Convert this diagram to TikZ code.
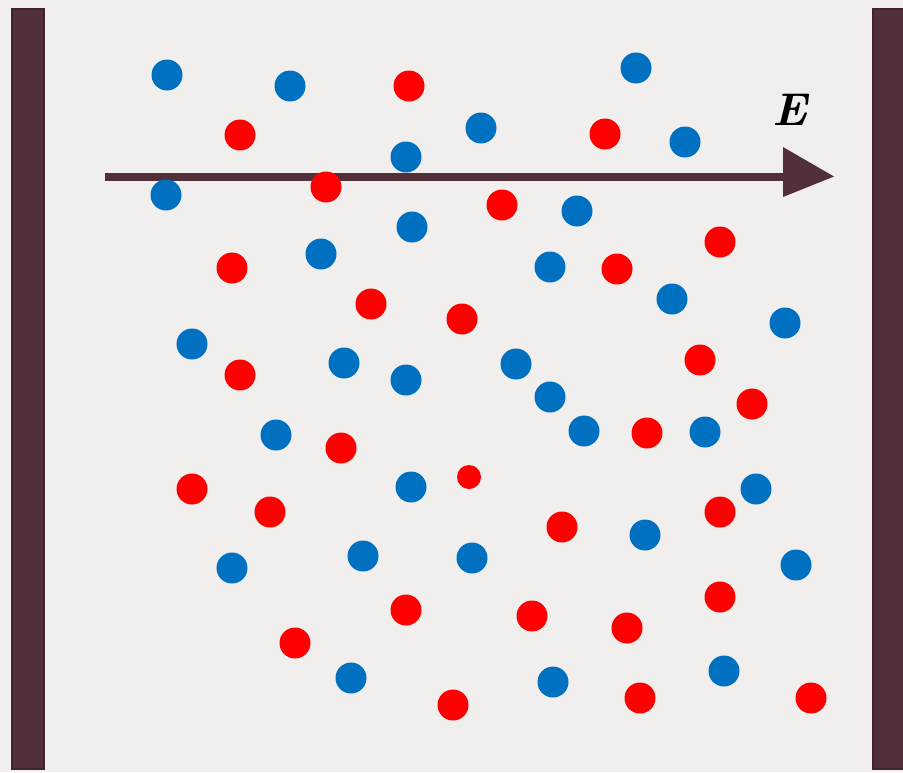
\documentclass[tikz,border=0pt]{standalone}
\usepackage{fontspec}
\usepackage{xcolor}
\definecolor{bg}{HTML}{F1EFEE}
\definecolor{plate}{HTML}{52303A}
\definecolor{plateedge}{HTML}{40252D}
\definecolor{qblue}{HTML}{0070C0}
\definecolor{qred}{HTML}{FF0000}
\begin{document}
\begin{tikzpicture}[x=1pt,y=-1pt,
  platebox/.style={fill=plate,draw=plateedge,line width=2.5pt},
  poscharge/.style={circle,fill=qred,inner sep=0pt,minimum size=31pt},
  negcharge/.style={circle,fill=qblue,inner sep=0pt,minimum size=31pt},
  field/.style={draw=plate,line width=8pt}]
\fill[bg] (0,0) rectangle (903,772);
\useasboundingbox (0,0) rectangle (903,772);
% plates
\node[platebox,minimum width=32pt,minimum height=760pt,inner sep=0pt] (lp) at (28,389) {};
\node[platebox,minimum width=32pt,minimum height=760pt,inner sep=0pt] (rp) at (889,389) {};
% field arrow
\coordinate (fs) at (105,176.5);
\coordinate (fe) at (786,176.5);
\draw[field] (fs) -- (fe);
\fill[plate] (783,147) -- (834,176.5) -- (783,197) -- cycle;
\node[font=\bfseries\itshape\fontsize{46}{46}\selectfont,inner sep=0pt] (E) at (790,110) {E};
% blue charges
\foreach \n/\x/\y in {b1/167/75,b2/290/86,b3/636/68,b4/481/128,b5/406/157,b6/685/142,b7/166/195,b8/412/227,b9/577/211,b10/321/254,b11/550/267,b12/672/299,b13/785/323,b14/192/344,b15/344/363,b16/406/380,b17/516/364,b18/550/397,b19/584/431,b20/705/432,b21/276/435,b22/411/487,b23/756/489,b24/645/535,b25/363/556,b26/472/558,b27/232/568,b28/796/565,b29/351/678,b30/553/682,b31/724/671}
  \node[negcharge] (\n) at (\x,\y) {};
% red charges
\foreach \n/\x/\y in {r1/409/86,r2/240/135,r3/605/134,r4/326/187,r5/502/205,r6/720/242,r7/232/268,r8/617/269,r9/371/304,r10/462/319,r11/700/360,r12/240/375,r13/752/404,r14/647/433,r15/341/448,r16/192/489,r17/270/512,r18/720/512,r19/562/527,r20/406/610,r21/532/616,r22/627/628,r23/720/597,r24/295/643,r25/453/705,r26/640/698,r27/811/698}
  \node[poscharge] (\n) at (\x,\y) {};
\node[poscharge,minimum size=24pt] (r28) at (469,477) {};
\end{tikzpicture}
\end{document}
